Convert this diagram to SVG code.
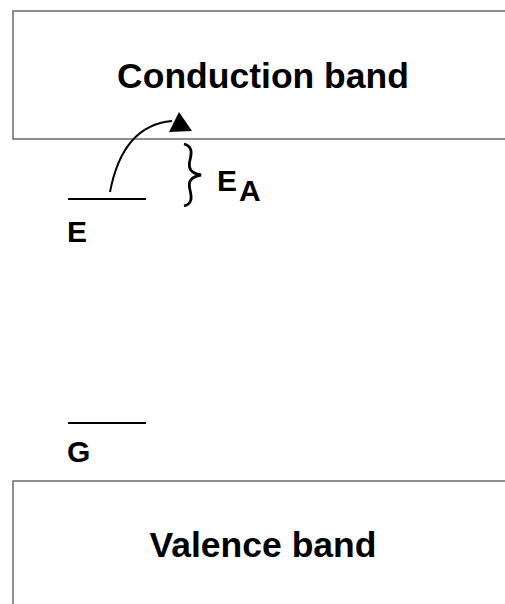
<svg xmlns="http://www.w3.org/2000/svg" width="505" height="604" viewBox="0 0 505 604">
<style>
.band{fill:#fff;stroke:#444;stroke-width:1.2}
.big{font-family:"Liberation Sans",Arial,sans-serif;font-weight:bold;font-size:35.5px;fill:#000;text-anchor:middle}
.lbl{font-family:"Liberation Sans",Arial,sans-serif;font-weight:bold;font-size:30px;fill:#000}
.lvl{stroke:#000;stroke-width:2}
</style>
<rect width="505" height="604" fill="#fff"/>
<g id="conduction">
<rect class="band" x="13" y="11" width="500" height="128"/>
<text class="big" x="263" y="88">Conduction band</text>
</g>
<g id="valence">
<rect class="band" x="13" y="481" width="500" height="140"/>
<text class="big" x="263" y="557">Valence band</text>
</g>
<g id="levelE">
<line class="lvl" x1="68" y1="199" x2="146" y2="199"/>
<text class="lbl" x="67" y="242">E</text>
</g>
<g id="levelG">
<line class="lvl" x1="68" y1="423" x2="146" y2="423"/>
<text class="lbl" x="67" y="462">G</text>
</g>
<g id="activation">
<path d="M184,144 C192,146 192,152 190,160 C188,168 190,173 201,175 C190,177 188,182 190,190 C192,198 192,204 184,206" fill="none" stroke="#000" stroke-width="2.8"/>
<text class="lbl" x="217" y="191" font-size="32">E</text>
<text class="lbl" x="239" y="201" font-size="21.5">A</text>
</g>
<g id="connectors">
<path d="M110,192 C118,150 138,124 172,121" fill="none" stroke="#000" stroke-width="2"/>
<polygon points="179,112 169,132 192,131" fill="#000"/>
</g>
</svg>
